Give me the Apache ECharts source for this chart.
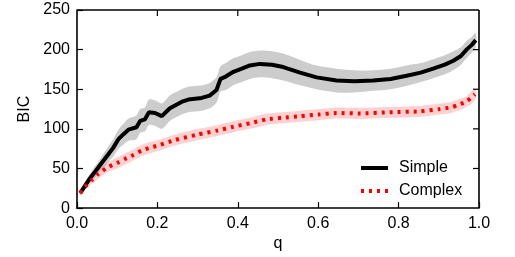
<!DOCTYPE html>
<html>
<head>
<meta charset="utf-8">
<script src="https://cdn.jsdelivr.net/npm/echarts@6/dist/echarts.min.js"></script>
<style>
  html, body { margin: 0; padding: 0; background: #fff; }
  #chart { width: 515px; height: 257px; }
</style>
</head>
<body>
<div id="chart"></div>
<script>
// Simple model: mean BIC and half-width of the shaded band
const qSimple = [0.008, 0.03, 0.045, 0.06, 0.078, 0.09, 0.103, 0.115, 0.128, 0.148, 0.157, 0.169, 0.179, 0.194, 0.211, 0.231, 0.26, 0.277, 0.31, 0.33, 0.347, 0.357, 0.37, 0.389, 0.41, 0.43, 0.455, 0.485, 0.513, 0.555, 0.596, 0.646, 0.69, 0.737, 0.78, 0.82, 0.855, 0.886, 0.915, 0.936, 0.955, 0.969, 0.982, 0.992];
const simpleBIC = [19, 36, 46, 56, 68, 76, 87, 93, 99, 102, 110, 112, 121, 120, 116, 126, 134, 137, 139, 142, 149, 163, 166, 172, 176, 180, 182, 181, 178, 171, 165, 161, 160, 161, 163, 167, 171, 176, 181, 186, 192, 200, 206, 212];
const simpleErr = [3, 5, 7, 8, 10, 11, 12, 13, 14, 15, 15, 15, 16, 16, 16, 16, 16, 16, 16, 16, 16, 16, 17, 17, 17, 17, 17, 17, 17, 16, 15, 15, 14, 13, 13, 13, 12, 12, 12, 12, 11, 11, 10, 9];

// Complex model
const qComplex = [0.008, 0.02, 0.037, 0.053, 0.078, 0.1, 0.119, 0.14, 0.161, 0.18, 0.202, 0.244, 0.302, 0.35, 0.389, 0.43, 0.472, 0.51, 0.555, 0.6, 0.646, 0.7, 0.779, 0.85, 0.903, 0.93, 0.945, 0.969, 0.99];
const complexBIC = [19, 27, 35.5, 43, 52, 57, 62, 67, 72.6, 76, 79, 86, 93, 98, 102.7, 107, 112, 114, 116, 118, 120, 119.5, 121, 122, 125, 127, 129.6, 134.5, 143.6];
const complexErr = [3, 4, 5, 6, 6, 7, 7, 7, 7, 7, 7, 7, 7, 7, 7, 7, 7, 7, 7, 7, 7, 7, 7, 7, 7, 7, 7, 7, 7];

const xTicks = [0, 0.2, 0.4, 0.6, 0.8, 1.0];
const yTicks = [0, 50, 100, 150, 200, 250];

const FONT = 'Liberation Sans';

function pairs(xs, ys) {
    return xs.map((x, i) => [x, ys[i]]);
}

function bandSeries(name, xs, mean, err, color) {
    return {
        name: name + ' band',
        type: 'custom',
        silent: true,
        z: 1,
        data: [[0.5, 100]],
        renderItem: function (params, api) {
            const pts = [];
            for (let i = 0; i < xs.length; i++) pts.push(api.coord([xs[i], mean[i] + err[i]]));
            for (let i = xs.length - 1; i >= 0; i--) pts.push(api.coord([xs[i], mean[i] - err[i]]));
            return {
                type: 'polygon',
                shape: { points: pts, smooth: 0.3 },
                style: { fill: color, stroke: null }
            };
        }
    };
}

const axisLine = { show: true, onZero: false, lineStyle: { color: '#000', width: 1.6 } };
const tick = { show: true, inside: true, length: 6, lineStyle: { color: '#000', width: 1.2 } };
const labelStyle = { color: '#000', fontSize: 16, fontFamily: FONT };

const chart = echarts.init(document.getElementById('chart'));

chart.setOption({
    animation: false,
    textStyle: { fontFamily: FONT },
    grid: { left: 77, right: 36, top: 10, bottom: 45 },
    xAxis: {
        type: 'value', min: 0, max: 1, interval: 0.2,
        name: 'q', nameLocation: 'middle', nameGap: 23,
        nameTextStyle: { color: '#000', fontSize: 16, fontFamily: FONT },
        axisLine: axisLine, axisTick: tick, splitLine: { show: false },
        axisLabel: Object.assign({ margin: 7, formatter: v => v.toFixed(1) }, labelStyle)
    },
    yAxis: {
        type: 'value', min: 0, max: 250, interval: 50,
        name: 'BIC', nameLocation: 'middle', nameGap: 40, nameRotate: 90,
        nameTextStyle: { color: '#000', fontSize: 16, fontFamily: FONT },
        axisLine: axisLine, axisTick: tick, splitLine: { show: false },
        axisLabel: Object.assign({ margin: 7 }, labelStyle)
    },
    legend: {
        data: [
            { name: 'Simple', itemStyle: { opacity: 0 }, lineStyle: { width: 4 } },
            { name: 'Complex', itemStyle: { opacity: 0 }, lineStyle: { width: 4 } }
        ],
        orient: 'vertical',
        left: 354, top: 155,
        itemWidth: 27, itemHeight: 12, itemGap: 7,
        textStyle: { color: '#000', fontSize: 16, fontFamily: FONT, padding: [0, 0, 0, 6] }
    },
    series: [
        bandSeries('Simple', qSimple, simpleBIC, simpleErr, 'rgba(0,0,0,0.2)'),
        bandSeries('Complex', qComplex, complexBIC, complexErr, 'rgba(255,0,0,0.18)'),
        {
            name: 'Simple', type: 'line', z: 3,
            data: pairs(qSimple, simpleBIC),
            showSymbol: false, symbol: 'none',
            lineStyle: { color: '#000', width: 4 },
            itemStyle: { color: '#000' }
        },
        {
            name: 'Complex', type: 'line', z: 4, smooth: 0.2,
            data: pairs(qComplex, complexBIC),
            showSymbol: false, symbol: 'none',
            lineStyle: { color: '#ff0000', width: 4, type: [3, 5], cap: 'butt' },
            itemStyle: { color: '#ff0000' }
        }
    ]
});

// top and right frame edges with mirrored inward ticks, placed through the axes' scales
const px = (x, y) => chart.convertToPixel({ gridIndex: 0 }, [x, y]);
const xMin = xTicks[0], xMax = xTicks[xTicks.length - 1];
const yMin = yTicks[0], yMax = yTicks[yTicks.length - 1];
const frame = [];
const tl = px(xMin, yMax), tr = px(xMax, yMax), br = px(xMax, yMin);
const edge = { stroke: '#000', lineWidth: 1.6 };
const tk = { stroke: '#000', lineWidth: 1.2 };
frame.push({ type: 'line', shape: { x1: tl[0], y1: tl[1], x2: tr[0], y2: tr[1] }, style: edge, z: 10, silent: true });
frame.push({ type: 'line', shape: { x1: tr[0], y1: tr[1], x2: br[0], y2: br[1] }, style: edge, z: 10, silent: true });
xTicks.slice(1, -1).forEach(v => {
    const p = px(v, yMax);
    frame.push({ type: 'line', shape: { x1: p[0], y1: p[1], x2: p[0], y2: p[1] + 6 }, style: tk, z: 10, silent: true });
});
yTicks.slice(1, -1).forEach(v => {
    const p = px(xMax, v);
    frame.push({ type: 'line', shape: { x1: p[0], y1: p[1], x2: p[0] - 6, y2: p[1] }, style: tk, z: 10, silent: true });
});
chart.setOption({ graphic: frame });
</script>
</body>
</html>
